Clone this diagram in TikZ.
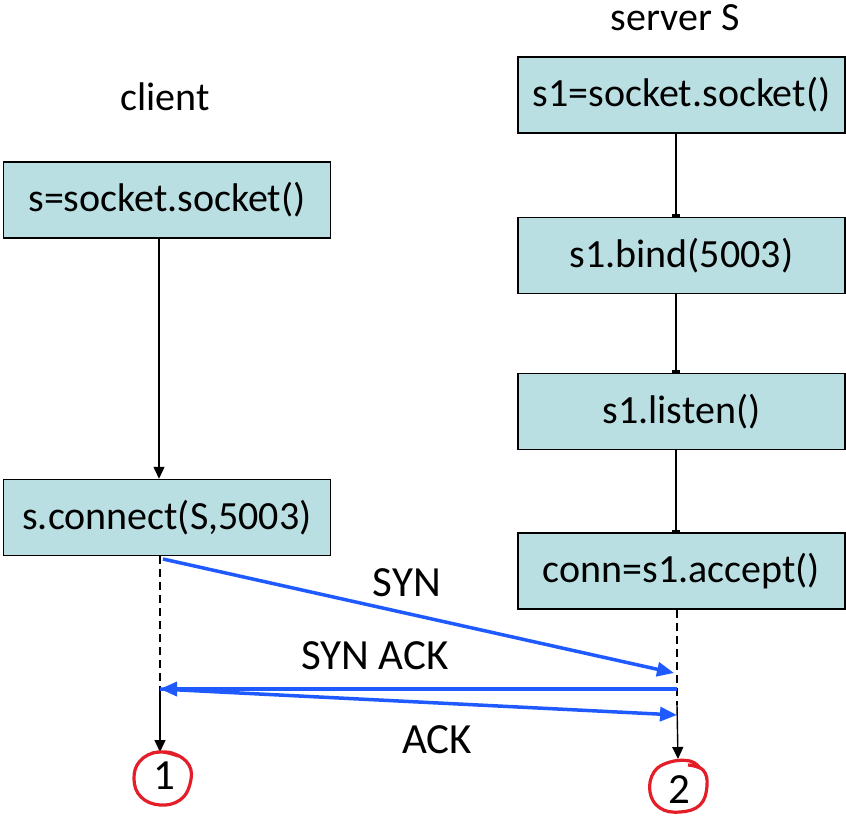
\documentclass[tikz,border=0pt]{standalone}
\usepackage{fontspec}
\setmainfont{Carlito}
\usetikzlibrary{arrows.meta}
\definecolor{boxfill}{RGB}{185,223,226}
\definecolor{msgblue}{RGB}{30,90,255}
\definecolor{markred}{RGB}{228,30,40}
\begin{document}
\begin{tikzpicture}[x=1pt,y=-1pt,
  txt/.style={font=\fontsize{40}{48}\selectfont, inner sep=0pt},
  lbl/.style={font=\fontsize{43}{50}\selectfont, inner sep=0pt},
  box/.style={txt, draw=black, line width=1.5pt, fill=boxfill, minimum width=327pt, minimum height=76pt},
  flow/.style={line width=1.4pt, -{Triangle[length=12pt,width=11pt]}},
  tick/.style={line width=1.4pt, -{Rectangle[length=2.5pt,width=8pt]}},
  life/.style={line width=1.6pt, dash pattern=on 8pt off 5pt},
  msg/.style={draw=msgblue, line width=3.5pt, -{Triangle[length=17pt,width=14pt]}},
  redring/.style={draw=markred, line width=3.2pt}
]
\useasboundingbox (0,0) rectangle (846,816);

% titles
\node[txt] (client) at (165,97) {client};
\node[txt] (server) at (675,18) {server S};

% boxes
\node[box] (c1) at (167,200) {s=socket.socket()};
\node[box] (c2) at (167,517.5) {s.connect(S,5003)};
\node[box] (s1) at (681.5,95) {s1=socket.socket()};
\node[box] (s2) at (681.5,255.5) {s1.bind(5003)};
\node[box] (s3) at (681.5,411.5) {s1.listen()};
\node[box] (s4) at (681.5,571) {conn=s1.accept()};

% lifeline x positions
\coordinate (cx) at (159,0);
\coordinate (sx) at (676,0);

\draw[flow] (c1.south -| cx) -- (c2.north -| cx);
\draw[tick] (s1.south -| sx) -- (s2.north -| sx);
\draw[tick] (s2.south -| sx) -- (s3.north -| sx);
\draw[tick] (s3.south -| sx) -- (s4.north -| sx);

% lifelines
\coordinate (csyn) at (163,559);
\coordinate (cmid) at (160,689);
\coordinate (cend) at (160,752);
\coordinate (ssyn) at (674,673);
\coordinate (smid) at (677,689);
\coordinate (sack) at (677,715);
\coordinate (sdash) at (677,705);
\coordinate (send) at (678,759);

\draw[life] (c2.south -| cmid) -- (cmid);
\draw[flow] (cmid) -- (cend);
\draw[life] (s4.south -| sdash) -- (sdash);
\draw[flow] (sdash) -- (send);

% messages
\draw[msg] (csyn) -- (ssyn);
\draw[msg] (smid) -- (cmid);
\draw[msg] (cmid) -- (sack);

\node[lbl] (syn) at (407,583) {SYN};
\node[lbl] (synack) at (375,656) {SYN ACK};
\node[lbl] (ack) at (437,740) {ACK};

% markers
\node[lbl] (one) at (164,776) {1};
\node[lbl] (two) at (679,790) {2};
\draw[redring] plot[smooth, tension=0.7] coordinates {(152,753) (172,753) (189,765) (190,784) (180,800) (160,805) (141,797) (134,779) (140,761) (158,752) (178,756)};
\draw[redring] plot[smooth, tension=0.7] coordinates {(688,765) (703,770) (707,786) (700,805) (680,812) (660,808) (650,792) (654,772) (670,762) (690,761) (700,768)};
\end{tikzpicture}
\end{document}
